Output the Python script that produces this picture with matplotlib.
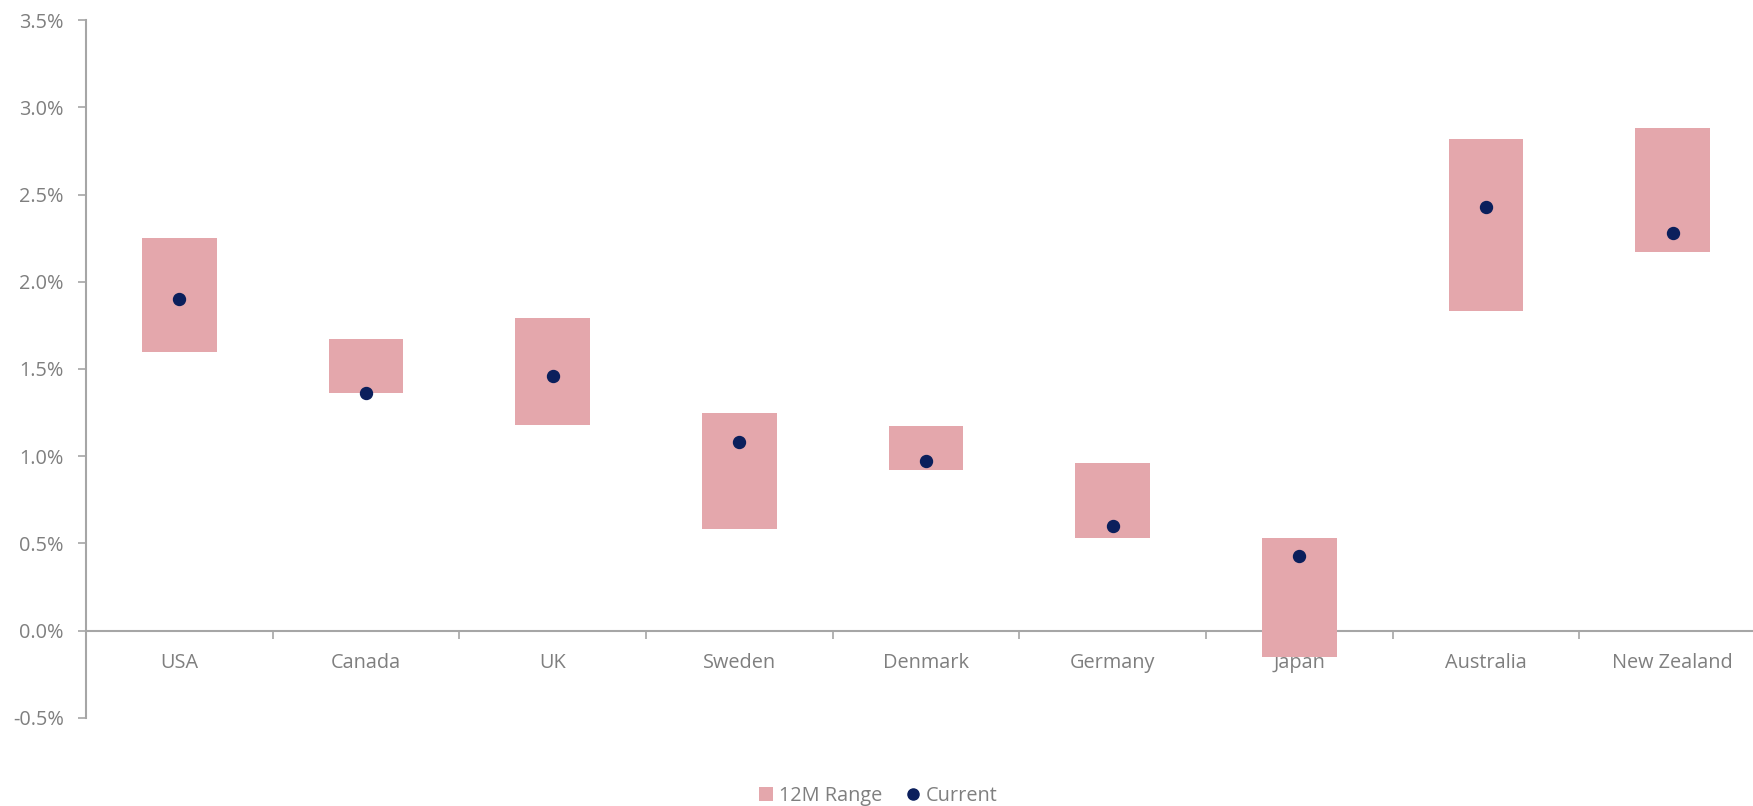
import numpy as np
import matplotlib
matplotlib.use("Agg")
import matplotlib.pyplot as plt
from matplotlib.patches import Patch
from matplotlib.lines import Line2D
from matplotlib.ticker import FuncFormatter, FixedLocator

# 12M range and current value per country (in %)
countries = ['USA', 'Canada', 'UK', 'Sweden', 'Denmark', 'Germany', 'Japan', 'Australia', 'New Zealand']
range_low = [1.60, 1.36, 1.18, 0.58, 0.92, 0.53, -0.15, 1.83, 2.17]
range_high = [2.25, 1.67, 1.79, 1.25, 1.17, 0.96, 0.53, 2.82, 2.88]
current = [1.90, 1.36, 1.46, 1.08, 0.97, 0.60, 0.43, 2.43, 2.28]

pink = '#E4A7AC'
navy = '#0B1F5C'
grey_txt = '#7F7F7F'
grey_ax = '#A6A6A6'

plt.rcParams['font.family'] = ['Open Sans', 'DejaVu Sans']

fig = plt.figure(figsize=(17.53, 8.06), dpi=100)
ax = fig.add_axes([0.049, 0.1095, 0.9584, 0.8655])

x = np.arange(len(countries))
lo = np.array(range_low) / 100
hi = np.array(range_high) / 100
cur = np.array(current) / 100

ax.bar(x, hi - lo, bottom=lo, width=0.4, color=pink, zorder=2, label='12M Range')
ax.plot(x, cur, 'o', color=navy, markersize=8.6, ls='none', zorder=3, label='Current')

ax.set_xlim(-0.5, len(countries) - 0.5)
ax.set_ylim(-0.005, 0.035)
ax.set_yticks(np.arange(-0.005, 0.0351, 0.005))
ax.yaxis.set_major_formatter(FuncFormatter(lambda v, p: f'{v*100:.1f}%'))

ax.set_xticks(x)
ax.set_xticklabels(countries)
ax.xaxis.set_minor_locator(FixedLocator(np.arange(0.5, len(countries) - 0.5, 1)))

ax.spines['top'].set_visible(False)
ax.spines['right'].set_visible(False)
ax.spines['bottom'].set_position(('data', 0))
ax.spines['bottom'].set_color(grey_ax)
ax.spines['left'].set_color(grey_ax)
ax.spines['bottom'].set_linewidth(1.5)
ax.spines['left'].set_linewidth(1.5)
ax.spines['bottom'].set_zorder(1)

ax.tick_params(axis='x', which='major', length=0, pad=16, labelsize=14.3, labelcolor=grey_txt)
ax.tick_params(axis='x', which='minor', length=6, width=1.2, color=grey_ax, direction='out')
ax.tick_params(axis='y', length=6, width=1.2, color=grey_ax, pad=10, labelsize=14.3, labelcolor=grey_txt)

handles = [Patch(facecolor=pink, edgecolor='none'),
           Line2D([], [], marker='o', color=navy, ls='none', markersize=8)]
fig.legend(handles, ['12M Range', 'Current'], loc='center', bbox_to_anchor=(0.501, 0.0124),
           ncol=2, frameon=False, fontsize=14.3, labelcolor=grey_txt,
           handlelength=0.7, handleheight=0.7, handletextpad=0.3, columnspacing=1.2)

plt.savefig('out.png', dpi=100)
